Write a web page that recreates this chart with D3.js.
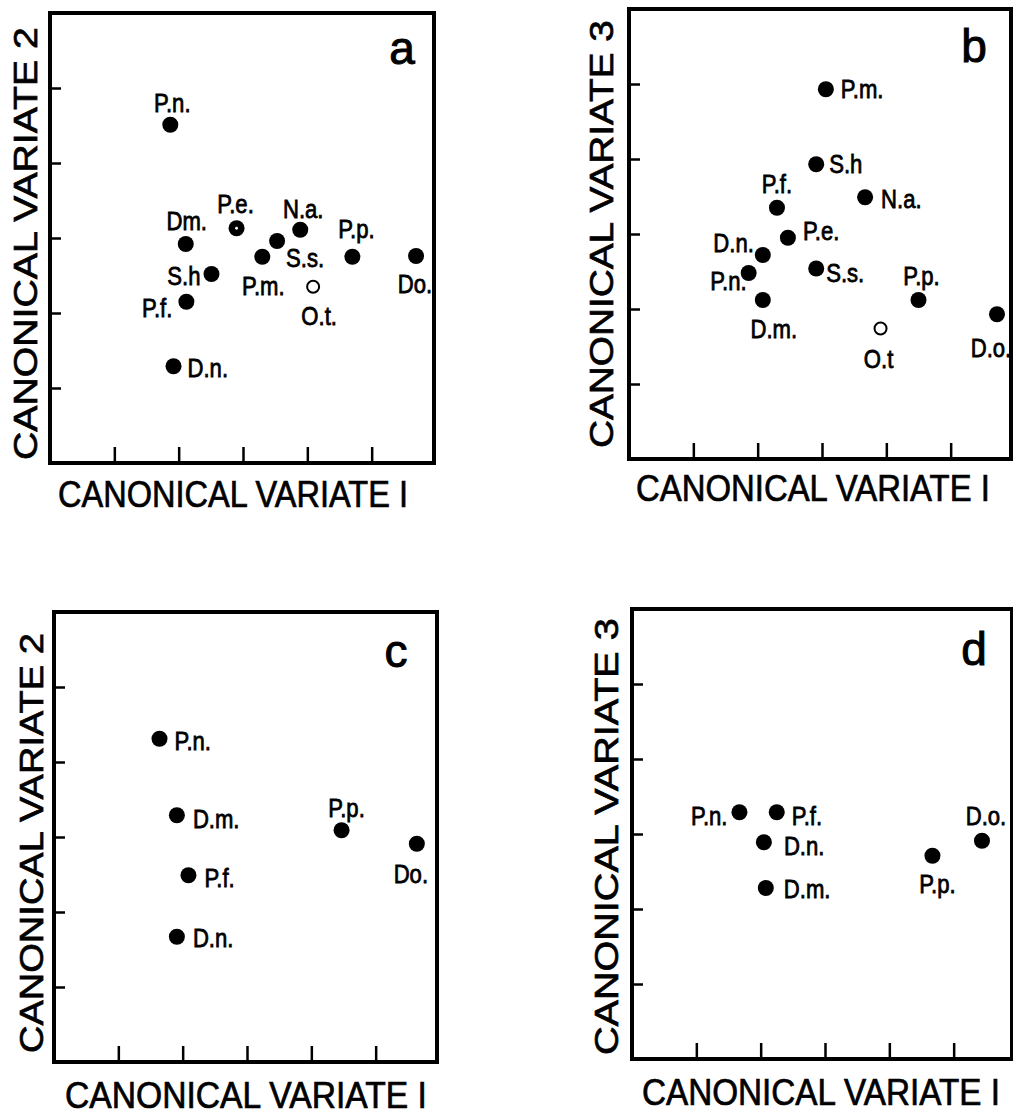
<!DOCTYPE html>
<html>
<head>
<meta charset="utf-8">
<script src="https://cdn.jsdelivr.net/npm/d3@7"></script>
<style>
  body { margin: 0; background: #fff; }
  svg { display: block; }
  .pt-label { font-family: "Liberation Sans", Arial, sans-serif; font-size: 26px; fill: #000; stroke: #000; stroke-width: 0.8px; }
  .ax-label { font-family: "Liberation Sans", Arial, sans-serif; fill: #000; stroke: #000; stroke-width: 0.7px; }
  .tag { font-family: "Liberation Sans", Arial, sans-serif; font-size: 46px; fill: #000; stroke: #000; stroke-width: 1px; }
</style>
</head>
<body>
<script>
// values, in canonical-variate tick units (0..6)
var tickValues = [1, 2, 3, 4, 5];

var aNames = ["P.n.", "Dm.", "P.e.", "N.a.", "S.s.", "P.m.", "S.h", "P.p.", "Do.", "O.t.", "P.f.", "D.n."];
var aCV1   = [1.87, 2.11, 2.90, 3.89, 3.53, 3.30, 2.51, 4.70, 5.69, 4.09, 2.12, 1.92];
var aCV2   = [4.51, 2.92, 3.13, 3.11, 2.96, 2.75, 2.52, 2.75, 2.76, 2.35, 2.15, 1.29];
var aKind  = ["f", "f", "d", "f", "f", "f", "f", "f", "f", "o", "f", "f"];

var bNames = ["P.m.", "S.h", "N.a.", "P.f.", "P.e.", "D.n.", "P.n.", "S.s.", "D.m.", "P.p.", "O.t", "D.o."];
var bCV1   = [3.06, 2.91, 3.67, 2.30, 2.47, 2.08, 1.86, 2.91, 2.08, 4.50, 3.91, 5.72];
var bCV3   = [4.93, 3.93, 3.49, 3.35, 2.95, 2.72, 2.48, 2.54, 2.12, 2.12, 1.74, 1.93];
var bKind  = ["f", "f", "f", "f", "f", "f", "f", "f", "f", "f", "o", "f"];

var cNames = ["P.n.", "D.m.", "P.p.", "Do.", "P.f.", "D.n."];
var cCV1   = [1.64, 1.91, 4.47, 5.64, 2.09, 1.91];
var cCV2   = [4.31, 3.29, 3.09, 2.91, 2.49, 1.67];

var dNames = ["P.n.", "P.f.", "D.n.", "D.m.", "P.p.", "D.o."];
var dCV1   = [1.67, 2.25, 2.05, 2.08, 4.67, 5.44];
var dCV3   = [3.29, 3.29, 2.89, 2.28, 2.71, 2.91];

// label placement next to each point: [dx, dy, anchor]
var aLab = [[2,-13,"middle"],[1,-14,"middle"],[-1,-15,"middle"],[3,-12,"middle"],[9,26,"start"],[1,38,"middle"],
            [-11,11,"end"],[4,-19,"middle"],[-1,37,"middle"],[6,38,"middle"],[-14,15,"end"],[14,11,"start"]];
var bLab = [[15,9,"start"],[13,9,"start"],[16,11,"start"],[0,-15,"middle"],[15,2,"start"],[-9,-3,"end"],
            [-2,17,"end"],[10,13,"start"],[11,38,"middle"],[3,-15,"middle"],[-2,39,"middle"],[-6,43,"middle"]];
var cLab = [[15,11,"start"],[16,13,"start"],[5,-13,"middle"],[-6,39,"middle"],[16,12,"start"],[16,10,"start"]];
var dLab = [[-12,13,"end"],[15,13,"start"],[20,13,"start"],[18,10,"start"],[5,37,"middle"],[4,-16,"middle"]];

function rows(names, xs, ys, kinds, labs) {
    return names.map(function (n, i) {
        return { name: n, x: xs[i], y: ys[i], kind: kinds ? kinds[i] : "f", lab: labs[i] };
    });
}

var panels = [
    { tag: "a", left: 50,  top: 13,  w: 384, xTitle: "CANONICAL VARIATE I", yTitle: "CANONICAL VARIATE 2",
      data: rows(aNames, aCV1, aCV2, aKind, aLab),
      tagX: 402, tagY: 64, xl: [8, 44, 350], yl: [-13, -3, 433] },
    { tag: "b", left: 629, top: 9,   w: 382, xTitle: "CANONICAL VARIATE I", yTitle: "CANONICAL VARIATE 3",
      data: rows(bNames, bCV1, bCV3, bKind, bLab),
      tagX: 974, tagY: 62, xl: [7, 42, 354], yl: [-16, -11, 428] },
    { tag: "c", left: 54,  top: 612, w: 383, xTitle: "CANONICAL VARIATE I", yTitle: "CANONICAL VARIATE 2",
      data: rows(cNames, cCV1, cCV2, null, cLab),
      tagX: 396, tagY: 667, xl: [11, 46, 362], yl: [-11, -9, 420] },
    { tag: "d", left: 632, top: 609, w: 380, xTitle: "CANONICAL VARIATE I", yTitle: "CANONICAL VARIATE 3",
      data: rows(dNames, dCV1, dCV3, null, dLab),
      tagX: 974, tagY: 665, xl: [10, 46, 358], yl: [-14, -4, 437] }
];

var W = 1013, H = 1116, PH = 450, PW = 386;

var svg = d3.select("body").append("svg")
    .attr("width", W)
    .attr("height", H);

// squeeze a text horizontally so it spans the given width
function fitWidth(sel, tx, ty, width, rot) {
    sel.each(function () {
        var natural = this.getComputedTextLength();
        var k = width / natural;
        d3.select(this).attr("transform",
            "translate(" + tx + "," + ty + ")" + (rot ? " rotate(" + rot + ")" : "") + " scale(" + k + ",1)");
    });
}

panels.forEach(function (p) {
    var x = d3.scaleLinear().domain([0, 6]).range([0, PW]);
    var y = d3.scaleLinear().domain([0, 6]).range([PH, 0]);

    var g = svg.append("g")
        .attr("transform", "translate(" + p.left + "," + p.top + ")");

    // ticks on the inside of the frame
    var xAxis = g.append("g")
        .attr("transform", "translate(0," + PH + ")")
        .call(d3.axisBottom(x).tickValues(tickValues).tickSize(-16).tickFormat(""));
    var yAxis = g.append("g")
        .call(d3.axisLeft(y).tickValues(tickValues).tickSize(-11).tickFormat(""));
    [xAxis, yAxis].forEach(function (ax) {
        ax.select(".domain").remove();
        ax.selectAll(".tick line").attr("stroke", "#000").attr("stroke-width", 2.5);
    });

    g.append("rect")
        .attr("x", 0)
        .attr("y", 0)
        .attr("width", p.w)
        .attr("height", PH)
        .attr("fill", "none")
        .attr("stroke", "#000")
        .attr("stroke-width", 4);

    var pts = g.selectAll(".pt")
        .data(p.data)
        .enter()
        .append("g")
        .attr("class", "pt")
        .attr("transform", function (d) { return "translate(" + x(d.x) + "," + y(d.y) + ")"; });

    pts.append("circle")
        .attr("r", function (d) { return d.kind === "o" ? 6 : 8; })
        .attr("fill", function (d) { return d.kind === "o" ? "#fff" : "#000"; })
        .attr("stroke", "#000")
        .attr("stroke-width", function (d) { return d.kind === "o" ? 2 : 0; });

    pts.filter(function (d) { return d.kind === "d"; })
        .append("circle")
        .attr("r", 1.4)
        .attr("fill", "#fff");

    pts.append("text")
        .attr("class", "pt-label")
        .attr("transform", function (d) { return "translate(" + d.lab[0] + "," + d.lab[1] + ") scale(0.85,1)"; })
        .attr("text-anchor", function (d) { return d.lab[2]; })
        .text(function (d) { return d.name; });

    // panel letter
    svg.append("text")
        .attr("class", "tag")
        .attr("x", p.tagX)
        .attr("y", p.tagY)
        .attr("text-anchor", "middle")
        .text(p.tag);

    // axis titles
    g.append("text")
        .attr("class", "ax-label")
        .attr("font-size", 37)
        .text(p.xTitle)
        .call(fitWidth, p.xl[0], PH + p.xl[1], p.xl[2], 0);

    g.append("text")
        .attr("class", "ax-label")
        .attr("font-size", 34)
        .text(p.yTitle)
        .call(fitWidth, p.yl[0], PH + p.yl[1], p.yl[2], -90);
});
</script>
</body>
</html>
